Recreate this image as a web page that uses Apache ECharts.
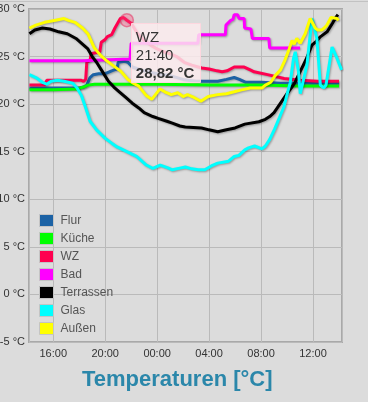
<!DOCTYPE html>
<html>
<head>
<meta charset="utf-8">
<script src="https://cdn.jsdelivr.net/npm/echarts@6/dist/echarts.min.js"></script>
<style>
html,body{margin:0;padding:0;background:#dcdcdc;}
#c{width:368px;height:402px;}
</style>
</head>
<body>
<div id="c"></div>
<script>
const categories = ['Flur','Küche','WZ','Bad','Terrassen','Glas','Außen'];
const colors = ['#1c62a5','#00ff00','#ff0050','#ff00ff','#000000','#00ffff','#ffff00'];
const yTicks = [-5, 0, 5, 10, 15, 20, 25, 30];
const titleText = 'Temperaturen [°C]';
const tipSeries = 'WZ';
const tipTime = '21:40';

const flurTimes = ['14:10','18:00','18:20','18:35','18:50','19:05','19:30','20:00','20:30','20:55','21:00','21:30','21:45','22:05','23:00','00:00','01:00','02:00','03:00','04:40','05:20','05:56','06:20','06:50','08:00','09:30','11:00','14:00'];
const flurValues = [21.7,21.7,21.8,22.0,22.8,23.1,23.2,23.2,23.5,23.7,24.4,24.5,24.4,23.9,23.5,23.2,23.0,22.6,22.4,22.4,22.6,22.8,22.6,22.3,22.3,22.2,22.2,22.2];

const kuecheTimes = ['14:10','16:00','17:50','18:20','18:40','19:10','21:00','00:00','04:00','08:00','11:00','14:00'];
const kuecheValues = [21.5,21.5,21.6,21.8,22.0,22.1,22.1,22.1,22.0,22.0,21.9,21.9];

const wzTimes = ['14:10','15:20','15:30','18:10','18:20','18:30','18:35','18:50','18:55','19:35','19:42','20:00','20:10','20:30','20:45','21:00','21:10','21:25','21:40','22:00','22:30','23:00','23:30','00:00','00:30','01:00','01:30','02:05','02:40','03:26','04:00','04:37','05:00','05:23','05:56','06:42','07:10','07:28','08:30','09:47','11:04','12:20','14:00'];
const wzValues = [22.0,22.0,22.5,22.5,22.4,22.6,24.4,24.6,25.3,25.5,26.5,26.8,27.1,27.3,28.0,28.6,29.0,29.1,28.82,28.5,27.4,26.7,26.2,25.8,25.5,25.3,25.0,24.4,24.1,23.8,23.7,23.5,23.4,23.5,23.9,23.9,23.6,23.4,23.1,22.7,22.5,22.4,22.4];

const badTimes = ['14:10','18:15','18:20','21:55','22:00','03:08','03:12','05:15','05:18','05:40','05:50','05:56','06:11','06:19','06:42','06:44','07:13','07:20','08:36','08:40','11:00'];
const badValues = [24.55,24.55,24.75,24.75,26.4,26.4,27.3,27.3,28.3,28.8,28.9,29.4,29.4,29.0,29.0,28.0,27.9,26.9,26.9,25.9,25.9];

const terrTimes = ['14:10','14:35','15:10','15:45','16:25','17:05','17:45','18:15','18:40','19:00','19:20','19:45','20:15','20:40','21:05','21:35','22:05','22:35','23:00','23:40','00:05','00:45','01:10','01:45','02:10','03:25','04:00','04:40','05:20','06:00','06:45','07:50','08:20','08:40','09:00','09:30','10:00','10:20','10:35','11:00','11:30','11:55','12:15','12:35','13:05','13:30','13:45','13:55'];
const terrValues = [27.4,27.8,28.0,27.9,27.6,27.4,26.9,26.3,25.8,25.0,24.4,23.5,22.4,21.8,21.3,20.7,20.1,19.6,19.1,18.7,18.5,18.2,18.0,17.7,17.6,17.5,17.3,17.1,17.3,17.5,17.9,18.15,18.4,18.7,19.1,20.1,21.1,21.7,22.2,23.4,24.8,26.2,26.6,27.1,27.6,28.5,29.1,29.4];

const glasTimes = ['14:10','14:40','15:10','15:30','15:50','16:20','16:50','17:30','17:50','18:10','18:30','18:50','19:20','20:00','20:30','20:55','21:40','22:25','23:10','23:40','00:14','00:50','01:10','01:50','02:10','02:40','03:10','03:40','04:10','04:40','05:30','05:56','06:16','06:45','07:02','07:30','08:04','08:20','08:40','09:03','09:25','09:45','10:00','10:15','10:30','10:38','10:53','11:01','11:10','11:32','11:55','12:03','12:18','12:34','12:49','13:00','13:28','13:51','14:12'];
const glasValues = [23.1,22.8,22.3,22.1,22.4,22.5,22.4,22.2,21.7,20.9,19.6,18.2,17.3,16.4,15.9,15.5,15.0,14.5,13.6,13.25,13.6,13.3,13.1,13.3,13.4,13.2,13.1,13.1,13.5,13.8,14.0,14.5,14.6,15.2,15.4,15.6,15.3,15.6,16.3,17.4,18.6,19.7,21.0,22.3,24.8,25.5,23.4,21.1,21.2,24.1,29.0,29.2,26.9,22.0,21.7,22.0,26.0,24.8,23.6];

const ausTimes = ['14:10','14:40','15:20','16:05','16:50','17:10','17:40','18:15','18:40','19:10','19:40','20:10','20:40','21:10','21:45','22:10','22:35','23:10','23:35','00:13','00:35','01:05','01:35','02:00','02:20','02:50','03:22','03:56','04:40','05:20','05:56','06:30','07:10','08:05','08:20','08:45','09:05','09:30','09:50','10:10','10:23','10:33','10:45','11:01','11:10','11:24','11:47','11:55','12:10','12:21','12:41','12:52','13:04','13:23','13:51','13:58'];
const ausValues = [28.0,28.3,28.6,28.8,29.0,28.8,28.6,28.0,27.4,25.9,25.1,24.5,24.0,23.5,22.6,22.2,21.9,20.9,20.5,21.6,21.3,21.0,21.2,20.8,21.0,20.7,20.3,20.8,21.0,21.1,21.3,21.5,21.7,21.7,22.0,22.3,23.0,23.6,24.6,25.8,26.7,26.3,26.9,26.4,26.5,27.4,29.0,29.2,28.0,27.8,27.8,28.0,28.3,29.1,29.0,28.8];

// axis window: from day 1 14:08 to day 2 14:14
const axisStart = '14:08';
const axisEnd = '14:14';

const seriesTimes = [flurTimes, kuecheTimes, wzTimes, badTimes, terrTimes, glasTimes, ausTimes];
const seriesValues = [flurValues, kuecheValues, wzValues, badValues, terrValues, glasValues, ausValues];

const BASE = Date.UTC(2024, 5, 1);
const H = 3600000;
function hm(s){ const p = s.split(':'); return (+p[0]) * 60 + (+p[1]); }
function toStamps(times){
  let day = 0, prev = -1;
  return times.map(t => { const m = hm(t); if (m < prev) day++; prev = m; return BASE + day * 24 * H + m * 60000; });
}
function pad(n){ return (n < 10 ? '0' : '') + n; }

const stampsList = seriesTimes.map(toStamps);
const tipIdx = categories.indexOf(tipSeries);
const tipDataIdx = seriesTimes[tipIdx].indexOf(tipTime);
const tipT = stampsList[tipIdx][tipDataIdx];
const tipV = seriesValues[tipIdx][tipDataIdx];
const xMin = BASE + hm(axisStart) * 60000;
const xMax = BASE + 24 * H + hm(axisEnd) * 60000;

const FONT = 'Liberation Sans, Arial, sans-serif';
const chart = echarts.init(document.getElementById('c'), null, {renderer: 'canvas'});

const series = categories.map((name, i) => {
  const s = {
    name: name,
    type: 'line',
    data: stampsList[i].map((t, k) => [t, seriesValues[i][k]]),
    showSymbol: false,
    symbol: 'none',
    color: colors[i],
    lineStyle: {width: 3, color: colors[i], shadowColor: 'rgba(0,0,0,0.3)', shadowBlur: 2, shadowOffsetX: 1, shadowOffsetY: 1},
    emphasis: {disabled: true},
    silent: true,
    animation: false
  };
  if (i === tipIdx) {
    s.markPoint = {
      silent: true,
      symbol: 'circle',
      symbolSize: 13,
      itemStyle: {color: 'rgba(255,70,120,0.35)', borderColor: 'rgba(230,40,90,0.5)', borderWidth: 1.5},
      label: {show: false},
      data: [{coord: [tipT, tipV]}]
    };
  }
  return s;
});

chart.setOption({
  animation: false,
  useUTC: true,
  backgroundColor: '#dcdcdc',
  textStyle: {fontFamily: FONT},
  title: {
    text: titleText,
    left: 82,
    top: 369,
    padding: 0,
    textStyle: {color: '#2b87aa', fontSize: 22, fontWeight: 'bold', fontFamily: FONT}
  },
  legend: {
    orient: 'vertical',
    left: 39,
    top: 214,
    padding: 0,
    itemWidth: 14,
    itemHeight: 12,
    itemGap: 5,
    icon: 'rect',
    itemStyle: {borderColor: '#c4c4c4', borderWidth: 1, shadowBlur: 0, shadowColor: 'transparent'},
    textStyle: {color: '#555', fontSize: 12, fontFamily: FONT, padding: [0, 0, 0, 2]},
    data: categories
  },
  grid: {
    left: 29, top: 9, right: 26, bottom: 60,
    containLabel: false,
    outerBoundsMode: 'none',
    show: true, borderColor: '#a9a9a9', borderWidth: 2, backgroundColor: 'transparent'
  },
  xAxis: {
    type: 'time',
    min: xMin,
    max: xMax,
    minInterval: 4 * H,
    maxInterval: 4 * H,
    axisLine: {show: false},
    axisTick: {show: false},
    splitLine: {show: true, lineStyle: {color: '#bababa', width: 1}},
    axisLabel: {
      color: '#333', fontSize: 11, margin: 6, fontFamily: FONT, hideOverlap: false,
      showMinLabel: false, showMaxLabel: false,
      formatter: function(v){ const d = new Date(v); return pad(d.getUTCHours()) + ':' + pad(d.getUTCMinutes()); }
    }
  },
  yAxis: {
    type: 'value',
    min: yTicks[0],
    max: yTicks[yTicks.length - 1],
    interval: yTicks[1] - yTicks[0],
    axisLine: {show: false},
    axisTick: {show: false},
    splitLine: {show: true, lineStyle: {color: '#bababa', width: 1}},
    axisLabel: {color: '#333', fontSize: 11, margin: 4, fontFamily: FONT, formatter: '{value} °C'}
  },
  series: series
});

const p = chart.convertToPixel({xAxisIndex: 0, yAxisIndex: 0}, [tipT, tipV]);
const d = new Date(tipT);
const tipTimeLabel = pad(d.getUTCHours()) + ':' + pad(d.getUTCMinutes());
const tipValueLabel = tipV.toFixed(2).replace('.', ',') + ' °C';
chart.setOption({
  graphic: [
    {type: 'line', silent: true, shape: {x1: 0, y1: 1.5, x2: 368, y2: 1.5}, style: {stroke: '#c2c2c2', lineWidth: 1}},
    {type: 'rect', silent: true, z: 100, shape: {x: Math.round(p[0]) + 4.5, y: Math.round(p[1]) + 3.5, width: 69, height: 59},
      style: {fill: 'rgba(252,236,238,0.82)', stroke: 'rgba(255,214,222,0.95)', lineWidth: 1}},
    {type: 'text', silent: true, z: 101, x: p[0] + 9, y: p[1] + 17.5,
      style: {text: tipSeries, font: '15px ' + FONT, fill: '#333', textVerticalAlign: 'middle'}},
    {type: 'text', silent: true, z: 101, x: p[0] + 9, y: p[1] + 35.5,
      style: {text: tipTimeLabel, font: '15px ' + FONT, fill: '#333', textVerticalAlign: 'middle'}},
    {type: 'text', silent: true, z: 101, x: p[0] + 9, y: p[1] + 54,
      style: {text: tipValueLabel, font: 'bold 15px ' + FONT, fill: '#333', textVerticalAlign: 'middle'}}
  ]
});
</script>
</body>
</html>
